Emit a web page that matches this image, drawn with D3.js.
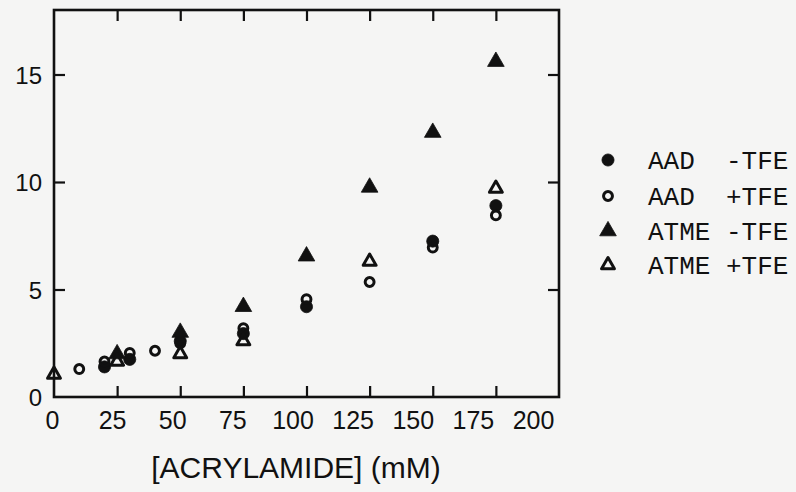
<!DOCTYPE html>
<html>
<head>
<meta charset="utf-8">
<script src="https://cdn.jsdelivr.net/npm/d3@7"></script>
<style>
  html, body { margin: 0; padding: 0; background: #f5f5f4; }
  svg { display: block; }
</style>
</head>
<body>
<svg id="chart" width="796" height="492"></svg>
<script>
// Acrylamide quenching: concentration (mM) vs F0/F
const xTicks = [0, 25, 50, 75, 100, 125, 150, 175, 200];
const yTicks = [0, 5, 10, 15];

const aadMinusX = [20, 30, 50, 75, 100, 150, 175];
const aadMinusY = [1.4, 1.75, 2.6, 2.95, 4.2, 7.25, 8.9];

const aadPlusX = [10, 20, 30, 40, 50, 75, 100, 125, 150, 175];
const aadPlusY = [1.3, 1.65, 2.05, 2.15, 2.5, 3.2, 4.55, 5.35, 6.95, 8.45];

const atmeMinusX = [25, 50, 75, 100, 125, 150, 175];
const atmeMinusY = [2.0, 3.0, 4.2, 6.55, 9.75, 12.3, 15.6];

const atmePlusX = [0, 25, 50, 75, 125, 175];
const atmePlusY = [1.05, 1.65, 2.0, 2.6, 6.3, 9.7];

const seriesNames = ["AAD  -TFE", "AAD  +TFE", "ATME -TFE", "ATME +TFE"];

const series = [
  { name: seriesNames[0], xs: aadMinusX, ys: aadMinusY, shape: "circle", filled: true },
  { name: seriesNames[1], xs: aadPlusX, ys: aadPlusY, shape: "circle", filled: false },
  { name: seriesNames[2], xs: atmeMinusX, ys: atmeMinusY, shape: "triangle", filled: true },
  { name: seriesNames[3], xs: atmePlusX, ys: atmePlusY, shape: "triangle", filled: false }
];

const ink = "#111";
const svg = d3.select("#chart");

const pLeft = 54, pRight = 559, pTop = 10, pBottom = 397;
const x = d3.scaleLinear().domain([0, 200]).range([pLeft, pRight]);
const y = d3.scaleLinear().domain([0, 18]).range([pBottom, pTop]);
// tick labels run on a slightly tighter spacing than the tick marks
const xLab = d3.scaleLinear().domain([0, 200]).range([pLeft - 2, pRight - 26]);

// frame
svg.append("rect")
  .attr("x", pLeft).attr("y", pTop)
  .attr("width", pRight - pLeft).attr("height", pBottom - pTop)
  .attr("fill", "none").attr("stroke", ink).attr("stroke-width", 2.6);

const tickLen = 11;
const inner = xTicks.slice(1, -1);
// bottom and top inward ticks
svg.append("g").attr("transform", `translate(0,${pBottom})`)
  .call(d3.axisTop(x).tickValues(inner).tickSize(tickLen).tickFormat(""))
  .call(g => g.select(".domain").remove())
  .call(g => g.selectAll("line").attr("stroke", ink).attr("stroke-width", 2.2));
svg.append("g").attr("transform", `translate(0,${pTop})`)
  .call(d3.axisBottom(x).tickValues(inner).tickSize(tickLen).tickFormat(""))
  .call(g => g.select(".domain").remove())
  .call(g => g.selectAll("line").attr("stroke", ink).attr("stroke-width", 2.2));
// left and right inward ticks
svg.append("g").attr("transform", `translate(${pLeft},0)`)
  .call(d3.axisRight(y).tickValues(yTicks.slice(1)).tickSize(tickLen).tickFormat(""))
  .call(g => g.select(".domain").remove())
  .call(g => g.selectAll("line").attr("stroke", ink).attr("stroke-width", 2.2));
svg.append("g").attr("transform", `translate(${pRight},0)`)
  .call(d3.axisLeft(y).tickValues(yTicks.slice(1)).tickSize(tickLen).tickFormat(""))
  .call(g => g.select(".domain").remove())
  .call(g => g.selectAll("line").attr("stroke", ink).attr("stroke-width", 2.2));

// tick labels
const labelFont = "Liberation Sans, Arial, Helvetica, sans-serif";
svg.append("g").attr("transform", `translate(0,${pBottom + 4})`)
  .call(d3.axisBottom(xLab).tickValues(xTicks).tickSize(0).tickPadding(10).tickFormat(d3.format("d")))
  .call(g => g.select(".domain").remove())
  .call(g => g.selectAll("text").attr("fill", ink).attr("font-size", 25)
    .attr("font-family", labelFont).attr("dy", "0.71em"));
svg.append("g").attr("transform", `translate(${pLeft - 12},0)`)
  .call(d3.axisLeft(y).tickValues(yTicks).tickSize(0).tickPadding(0).tickFormat(d3.format("d")))
  .call(g => g.select(".domain").remove())
  .call(g => g.selectAll("text").attr("fill", ink).attr("font-size", 24)
    .attr("font-family", labelFont).attr("dy", "0.36em"));

svg.append("text")
  .attr("x", 296).attr("y", 478)
  .attr("text-anchor", "middle")
  .attr("font-family", labelFont).attr("font-size", 30).attr("fill", ink)
  .text("[ACRYLAMIDE] (mM)");

// markers
function symbolFor(s) {
  if (s.shape === "circle") {
    return d3.symbol().type(d3.symbolCircle).size(s.filled ? 115 : 62)();
  }
  return d3.symbol().type(d3.symbolTriangle).size(s.filled ? 120 : 72)();
}
function styleMark(sel, s) {
  sel.attr("fill", s.filled ? ink : "none")
    .attr("stroke", ink)
    .attr("stroke-width", s.filled ? 0.8 : 3)
    .attr("stroke-linejoin", "round");
}

const plot = svg.append("g");
series.forEach(s => {
  const pts = s.xs.map((v, i) => [v, s.ys[i]]);
  const path = symbolFor(s);
  plot.append("g").selectAll("path").data(pts).join("path")
    .attr("d", path)
    .attr("transform", d => `translate(${x(d[0])},${y(d[1])})`)
    .call(styleMark, s);
});

// legend
const legend = svg.append("g");
const rowY = [160, 196, 231, 265];
series.forEach((s, i) => {
  legend.append("path")
    .attr("d", symbolFor(s))
    .attr("transform", `translate(608,${rowY[i]})`)
    .call(styleMark, s);
  legend.append("text")
    .attr("x", 648).attr("y", rowY[i])
    .attr("dy", "0.35em")
    .attr("font-family", "Liberation Mono, Courier New, monospace")
    .attr("font-size", 26)
    .attr("fill", ink)
    .attr("xml:space", "preserve")
    .style("white-space", "pre")
    .text(s.name);
});
</script>
</body>
</html>
